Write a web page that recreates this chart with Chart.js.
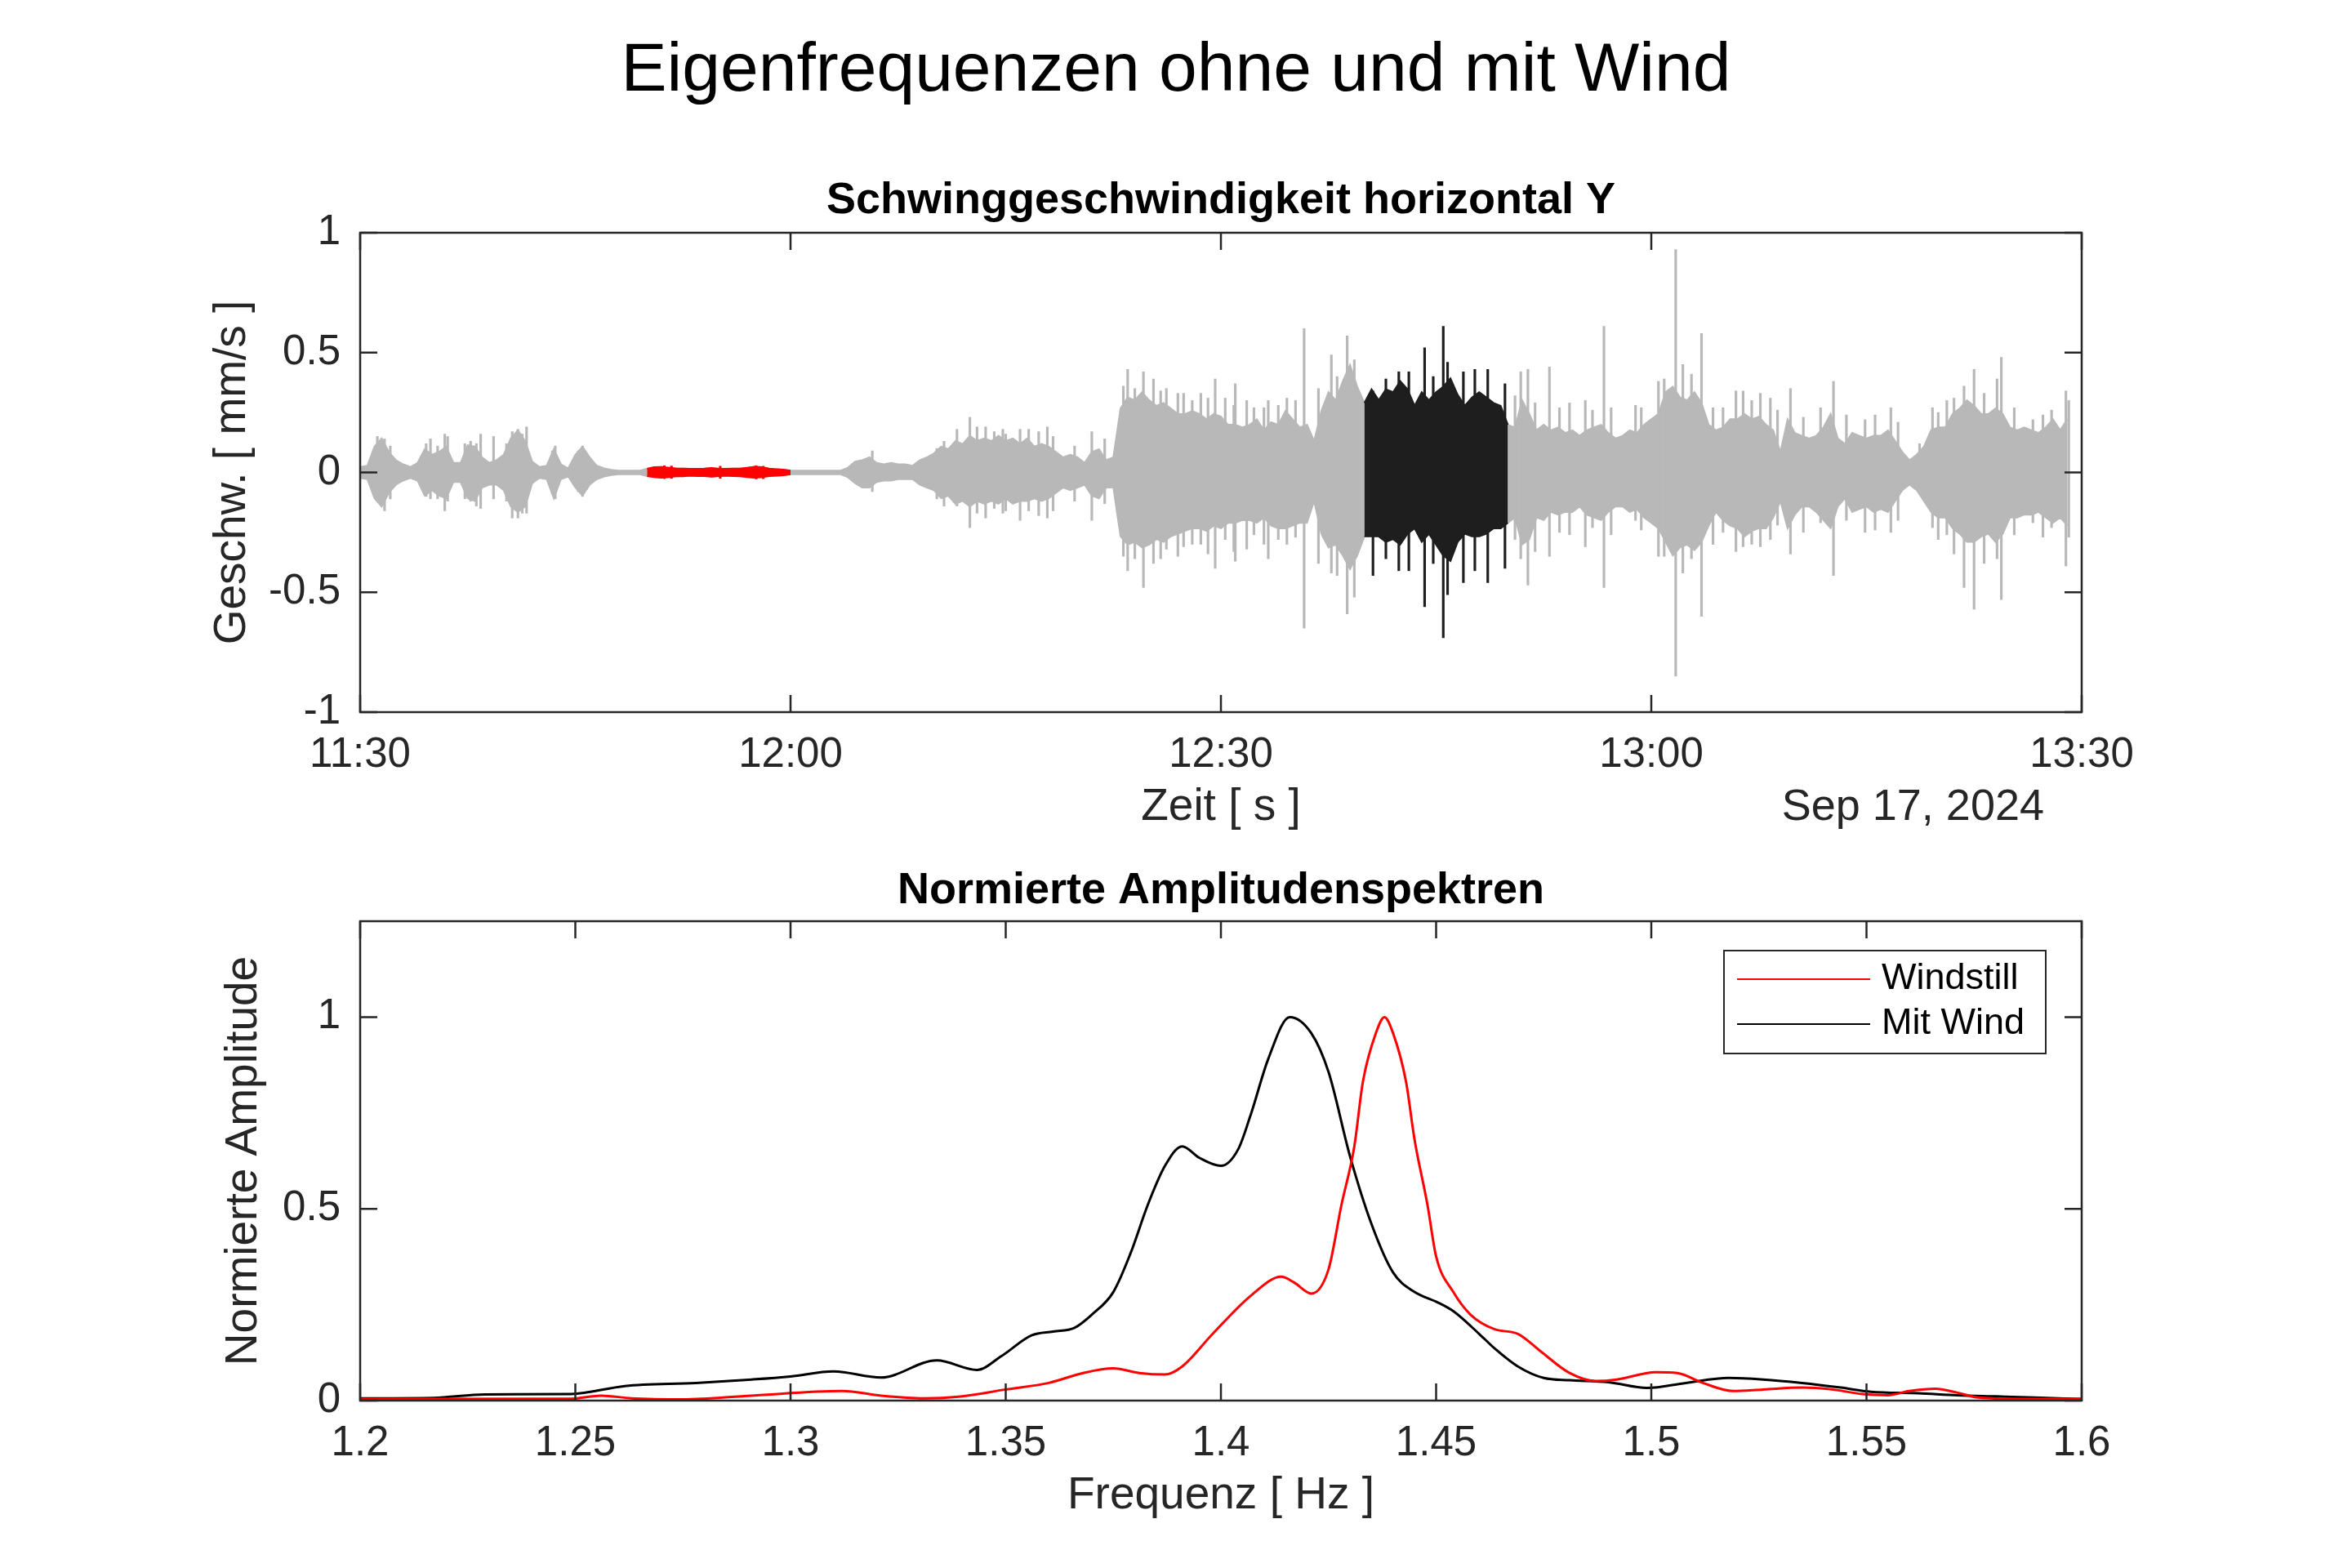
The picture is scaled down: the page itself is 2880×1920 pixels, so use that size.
<!DOCTYPE html>
<html>
<head>
<meta charset="utf-8">
<script src="https://cdn.jsdelivr.net/npm/chart.js@4.4.1/dist/chart.umd.min.js"></script>
<style>
  html, body { margin: 0; padding: 0; background: #fff; }
  #page { position: relative; width: 2880px; height: 1920px; }
  canvas { position: absolute; left: 0; }
  #top { top: 0; }
  #bottom { top: 1040px; }
</style>
</head>
<body>
<div id="page">
  <canvas id="top" width="2880" height="1040"></canvas>
  <canvas id="bottom" width="2880" height="880"></canvas>
</div>
<script>
// ---- data ----

// velocity trace: dense body of the signal, one sample every half minute from 11:30 (mm/s)
const sigStep = 0.5;
const sigHigh = [
  0.023, 0.028, 0.108, 0.142, 0.085, 0.051, 0.034, 0.023, 0.040, 0.097,
  0.074, 0.085, 0.108, 0.040, 0.040, 0.114, 0.108, 0.063, 0.040, 0.051,
  0.074, 0.142, 0.176, 0.131, 0.045, 0.023, 0.028, 0.097, 0.034, 0.017,
  0.074, 0.108, 0.063, 0.028, 0.017, 0.011, 0.008, 0.008, 0.008, 0.008,
  0.015, 0.022, 0.023, 0.020, 0.017, 0.016, 0.015, 0.015, 0.016, 0.019,
  0.015, 0.015, 0.016, 0.016, 0.020, 0.024, 0.022, 0.016, 0.014, 0.012,
  0.008, 0.008, 0.008, 0.008, 0.008, 0.008, 0.008, 0.008, 0.020, 0.045,
  0.051, 0.063, 0.040, 0.034, 0.040, 0.034, 0.034, 0.028, 0.051, 0.063,
  0.080, 0.108, 0.097, 0.131, 0.119, 0.153, 0.131, 0.142, 0.131, 0.153,
  0.131, 0.142, 0.119, 0.142, 0.108, 0.119, 0.108, 0.085, 0.063, 0.074,
  0.063, 0.040, 0.085, 0.097, 0.051, 0.063, 0.267, 0.313, 0.301, 0.335,
  0.301, 0.278, 0.290, 0.267, 0.244, 0.244, 0.256, 0.244, 0.222, 0.244,
  0.233, 0.199, 0.199, 0.188, 0.199, 0.222, 0.176, 0.210, 0.199, 0.256,
  0.222, 0.188, 0.199, 0.131, 0.256, 0.335, 0.301, 0.381, 0.449, 0.358,
  0.290, 0.347, 0.301, 0.347, 0.335, 0.381, 0.347, 0.278, 0.335, 0.301,
  0.335, 0.358, 0.392, 0.324, 0.278, 0.313, 0.335, 0.313, 0.290, 0.278,
  0.199, 0.188, 0.301, 0.244, 0.176, 0.199, 0.176, 0.188, 0.165, 0.176,
  0.153, 0.176, 0.188, 0.199, 0.165, 0.142, 0.153, 0.176, 0.165, 0.199,
  0.222, 0.244, 0.335, 0.358, 0.313, 0.301, 0.335, 0.290, 0.199, 0.176,
  0.188, 0.222, 0.222, 0.244, 0.222, 0.233, 0.199, 0.176, 0.085, 0.222,
  0.165, 0.153, 0.142, 0.153, 0.188, 0.244, 0.142, 0.119, 0.165, 0.153,
  0.142, 0.153, 0.153, 0.176, 0.131, 0.085, 0.051, 0.074, 0.108, 0.176,
  0.188, 0.188, 0.244, 0.267, 0.301, 0.278, 0.244, 0.244, 0.267, 0.244,
  0.188, 0.176, 0.188, 0.176, 0.165, 0.188, 0.222, 0.176, 0.222
];
const sigLow = [
  -0.023, -0.028, -0.108, -0.142, -0.085, -0.051, -0.034, -0.023, -0.034, -0.097,
  -0.074, -0.097, -0.108, -0.040, -0.040, -0.108, -0.119, -0.063, -0.051, -0.051,
  -0.074, -0.142, -0.165, -0.142, -0.045, -0.023, -0.028, -0.108, -0.028, -0.017,
  -0.063, -0.097, -0.051, -0.028, -0.017, -0.011, -0.008, -0.008, -0.008, -0.008,
  -0.015, -0.020, -0.022, -0.020, -0.016, -0.016, -0.014, -0.015, -0.015, -0.018,
  -0.015, -0.014, -0.015, -0.016, -0.020, -0.022, -0.020, -0.015, -0.014, -0.012,
  -0.008, -0.008, -0.008, -0.008, -0.008, -0.008, -0.008, -0.008, -0.020, -0.045,
  -0.063, -0.063, -0.040, -0.034, -0.034, -0.028, -0.028, -0.028, -0.051, -0.063,
  -0.074, -0.108, -0.097, -0.131, -0.119, -0.142, -0.119, -0.131, -0.119, -0.131,
  -0.108, -0.131, -0.119, -0.119, -0.108, -0.119, -0.108, -0.085, -0.063, -0.074,
  -0.063, -0.051, -0.097, -0.108, -0.063, -0.063, -0.267, -0.301, -0.290, -0.313,
  -0.301, -0.278, -0.290, -0.267, -0.256, -0.244, -0.233, -0.233, -0.244, -0.222,
  -0.233, -0.210, -0.210, -0.199, -0.199, -0.210, -0.188, -0.222, -0.233, -0.233,
  -0.222, -0.210, -0.210, -0.119, -0.256, -0.313, -0.301, -0.347, -0.403, -0.347,
  -0.267, -0.267, -0.267, -0.290, -0.278, -0.301, -0.256, -0.233, -0.290, -0.256,
  -0.301, -0.347, -0.369, -0.290, -0.256, -0.267, -0.267, -0.256, -0.233, -0.233,
  -0.210, -0.188, -0.301, -0.278, -0.188, -0.199, -0.165, -0.176, -0.165, -0.165,
  -0.142, -0.176, -0.188, -0.199, -0.165, -0.142, -0.142, -0.165, -0.153, -0.188,
  -0.210, -0.233, -0.290, -0.347, -0.313, -0.301, -0.324, -0.290, -0.222, -0.165,
  -0.199, -0.222, -0.233, -0.267, -0.244, -0.233, -0.233, -0.188, -0.119, -0.233,
  -0.176, -0.142, -0.142, -0.165, -0.199, -0.233, -0.142, -0.108, -0.165, -0.153,
  -0.142, -0.165, -0.153, -0.165, -0.119, -0.074, -0.051, -0.074, -0.119, -0.165,
  -0.188, -0.188, -0.233, -0.256, -0.290, -0.290, -0.267, -0.256, -0.290, -0.256,
  -0.188, -0.188, -0.176, -0.176, -0.165, -0.188, -0.210, -0.188, -0.222
];
// single peaks standing out of the body: [minute after 11:30, max, min]
const sigPeaks = [
  [1.2, 0.15, -0.12], [1.4, 0.13, -0.13], [1.7, 0.14, -0.16], [2.1, 0.11, -0.11],
  [4.6, 0.12, -0.10], [4.9, 0.14, -0.11], [5.4, 0.11, -0.11], [5.9, 0.16, -0.16],
  [6.1, 0.15, -0.12], [7.3, 0.12, -0.11], [7.7, 0.13, -0.12], [8.1, 0.12, -0.14],
  [8.4, 0.16, -0.15], [9.3, 0.15, -0.11], [10.2, 0.12, -0.12], [10.6, 0.17, -0.19],
  [11.0, 0.18, -0.19], [11.3, 0.16, -0.17], [11.6, 0.19, -0.17], [13.4, 0.09, -0.09],
  [13.6, 0.11, -0.11], [15.2, 0.09, -0.08], [15.5, 0.11, -0.10], [15.8, 0.08, -0.07],
  [21.2, 0.028, -0.026], [21.7, 0.027, -0.025], [25.1, 0.026, -0.025], [27.6, 0.028, -0.027], [28.1, 0.026, -0.026],
  [35.7, 0.09, -0.08], [40.2, 0.10, -0.11], [40.7, 0.13, -0.14], [41.6, 0.18, -0.14],
  [42.5, 0.23, -0.23], [43.0, 0.19, -0.17], [43.6, 0.19, -0.19], [44.2, 0.17, -0.15],
  [44.8, 0.18, -0.17], [45.0, 0.16, -0.16], [46.0, 0.18, -0.20], [46.6, 0.18, -0.16],
  [47.3, 0.17, -0.18], [47.9, 0.19, -0.19], [48.3, 0.15, -0.16], [49.8, 0.11, -0.12],
  [51.0, 0.17, -0.20], [51.9, 0.14, -0.13],
  [53.2, 0.36, -0.35], [53.5, 0.43, -0.41], [54.0, 0.35, -0.36], [54.6, 0.42, -0.48],
  [55.3, 0.39, -0.38], [55.8, 0.34, -0.36], [56.2, 0.35, -0.32], [57.0, 0.33, -0.35],
  [57.4, 0.33, -0.31], [58.0, 0.30, -0.30], [58.6, 0.33, -0.30], [59.1, 0.31, -0.34],
  [59.6, 0.39, -0.40], [60.3, 0.31, -0.28], [60.9, 0.28, -0.33], [61.0, 0.37, -0.37],
  [61.8, 0.30, -0.32], [62.3, 0.27, -0.26], [63.0, 0.27, -0.30], [63.3, 0.30, -0.36],
  [64.0, 0.28, -0.28], [64.6, 0.31, -0.30], [65.2, 0.30, -0.27], [65.8, 0.60, -0.65],
  [66.8, 0.35, -0.38], [67.7, 0.49, -0.42], [68.1, 0.40, -0.43], [68.8, 0.57, -0.59],
  [69.3, 0.47, -0.52],
  [70.6, 0.34, -0.43], [71.5, 0.39, -0.36], [72.4, 0.42, -0.41], [73.1, 0.42, -0.41],
  [74.2, 0.52, -0.56], [74.8, 0.40, -0.38], [75.5, 0.61, -0.69], [75.8, 0.46, -0.51],
  [76.9, 0.42, -0.46], [77.7, 0.43, -0.41], [78.6, 0.43, -0.46], [79.8, 0.37, -0.40],
  [80.5, 0.32, -0.28], [80.9, 0.42, -0.36], [81.4, 0.43, -0.47], [81.9, 0.29, -0.33],
  [82.9, 0.44, -0.35], [83.6, 0.27, -0.25], [84.3, 0.29, -0.26], [85.4, 0.30, -0.31],
  [85.9, 0.26, -0.23], [86.7, 0.61, -0.48], [87.2, 0.27, -0.26], [88.9, 0.28, -0.20],
  [89.3, 0.27, -0.24], [90.5, 0.38, -0.35], [90.9, 0.39, -0.35], [91.7, 0.93, -0.85],
  [92.2, 0.45, -0.42], [92.8, 0.41, -0.36], [93.5, 0.58, -0.60], [94.3, 0.27, -0.30],
  [95.0, 0.27, -0.25], [95.9, 0.34, -0.33], [96.4, 0.34, -0.31], [97.0, 0.30, -0.30],
  [97.6, 0.33, -0.31], [98.3, 0.31, -0.28], [98.8, 0.26, -0.22], [99.7, 0.35, -0.34],
  [100.6, 0.23, -0.25], [101.8, 0.27, -0.21], [102.7, 0.38, -0.43], [103.6, 0.24, -0.20],
  [104.9, 0.22, -0.25], [105.6, 0.24, -0.24], [106.7, 0.27, -0.25], [107.2, 0.21, -0.20],
  [108.7, 0.12, -0.08], [109.6, 0.27, -0.23], [110.0, 0.25, -0.28], [110.6, 0.30, -0.26],
  [111.1, 0.31, -0.34], [111.8, 0.36, -0.48], [112.5, 0.43, -0.57], [113.2, 0.33, -0.38],
  [114.1, 0.39, -0.36], [114.4, 0.48, -0.53], [115.3, 0.27, -0.26], [116.6, 0.22, -0.21],
  [117.3, 0.24, -0.27], [117.9, 0.26, -0.23], [118.9, 0.34, -0.39], [119.1, 0.30, -0.27]
];
const calmWindow = [20, 30];   // 11:50 - 12:00, windstill (red)
const windWindow = [70, 80];   // 12:40 - 12:50, mit Wind (black)
const timeTicks = ['11:30', '12:00', '12:30', '13:00', '13:30'];

// normalised amplitude spectra
const freqCalm = [1.200, 1.249, 1.256, 1.263, 1.275, 1.291, 1.312, 1.321, 1.331, 1.339,
  1.350, 1.360, 1.368, 1.375, 1.381, 1.387, 1.391, 1.398, 1.407, 1.414,
  1.417, 1.421, 1.425, 1.428, 1.431, 1.433, 1.436, 1.438, 1.440, 1.443,
  1.445, 1.448, 1.450, 1.454, 1.458, 1.4636, 1.469, 1.474, 1.481, 1.487,
  1.492, 1.501, 1.506, 1.512, 1.519, 1.526, 1.535, 1.542, 1.549, 1.555,
  1.560, 1.566, 1.571, 1.576, 1.589, 1.600];
const ampCalm = [0.004, 0.005, 0.013, 0.006, 0.003, 0.013, 0.025, 0.013, 0.006, 0.010,
  0.029, 0.046, 0.072, 0.084, 0.072, 0.068, 0.089, 0.173, 0.274, 0.323,
  0.308, 0.279, 0.342, 0.51, 0.663, 0.832, 0.958, 1.0, 0.958, 0.832,
  0.68, 0.51, 0.376, 0.283, 0.224, 0.186, 0.174, 0.131, 0.072, 0.051,
  0.055, 0.074, 0.072, 0.046, 0.025, 0.029, 0.034, 0.029, 0.017, 0.014,
  0.025, 0.031, 0.021, 0.008, 0.004, 0.004];
const freqWind = [1.200, 1.217, 1.229, 1.249, 1.2615, 1.278, 1.291, 1.300, 1.310, 1.321,
  1.334, 1.3433, 1.349, 1.356, 1.361, 1.366, 1.370, 1.375, 1.379, 1.383,
  1.387, 1.391, 1.395, 1.400, 1.404, 1.407, 1.411, 1.416, 1.421, 1.425,
  1.430, 1.435, 1.440, 1.445, 1.450, 1.454, 1.460, 1.4636, 1.469, 1.475,
  1.481, 1.490, 1.499, 1.508, 1.518, 1.526, 1.535, 1.544, 1.551, 1.562,
  1.571, 1.580, 1.589, 1.600];
const ampWind = [0.006, 0.007, 0.016, 0.017, 0.038, 0.046, 0.055, 0.063, 0.076, 0.060,
  0.105, 0.080, 0.116, 0.170, 0.180, 0.190, 0.224, 0.283, 0.384, 0.51,
  0.612, 0.663, 0.633, 0.612, 0.655, 0.748, 0.891, 1.0, 0.958, 0.857,
  0.637, 0.46, 0.334, 0.283, 0.258, 0.233, 0.174, 0.136, 0.089, 0.059,
  0.053, 0.048, 0.033, 0.046, 0.059, 0.055, 0.046, 0.034, 0.023, 0.019,
  0.014, 0.011, 0.008, 0.004];

// ---- styling ----
const FONT = "'Liberation Sans', Arial, Helvetica, sans-serif";
const AXIS = '#262626';
const GRAY = '#b8b8b8';
const DARK = '#1e1e1e';
const RED = '#ff0000';

Chart.defaults.font.family = FONT;
Chart.defaults.color = AXIS;

// MATLAB-like box, inward ticks, extra texts, legend
const matlabFrame = {
  id: 'matlabFrame',
  afterDraw(chart, args, opts) {
    const { ctx, chartArea: a, scales: { x, y } } = chart;
    ctx.save();
    ctx.strokeStyle = AXIS;
    ctx.lineWidth = 2.5;
    ctx.strokeRect(a.left, a.top, a.width, a.height);
    ctx.beginPath();
    const len = 21;
    x.ticks.forEach(t => {
      const px = x.getPixelForValue(t.value);
      ctx.moveTo(px, a.bottom); ctx.lineTo(px, a.bottom - len);
      ctx.moveTo(px, a.top); ctx.lineTo(px, a.top + len);
    });
    y.ticks.forEach(t => {
      const py = y.getPixelForValue(t.value);
      ctx.moveTo(a.left, py); ctx.lineTo(a.left + len, py);
      ctx.moveTo(a.right, py); ctx.lineTo(a.right - len, py);
    });
    ctx.stroke();

    (opts.texts || []).forEach(t => {
      ctx.font = t.font;
      ctx.fillStyle = t.color || '#000';
      ctx.textAlign = t.align || 'center';
      ctx.textBaseline = 'middle';
      ctx.fillText(t.text, t.x, t.y);
    });

    if (opts.legend) {
      const L = opts.legend;
      ctx.fillStyle = '#fff';
      ctx.fillRect(L.x, L.y, L.w, L.h);
      ctx.lineWidth = 2;
      ctx.strokeStyle = AXIS;
      ctx.strokeRect(L.x, L.y, L.w, L.h);
      ctx.font = L.font;
      ctx.textAlign = 'left';
      ctx.textBaseline = 'middle';
      chart.data.datasets.forEach((ds, i) => {
        const ry = L.rows[i];
        ctx.strokeStyle = ds.borderColor;
        ctx.lineWidth = 2;
        ctx.beginPath();
        ctx.moveTo(L.lineX0, ry); ctx.lineTo(L.lineX1, ry);
        ctx.stroke();
        ctx.fillStyle = '#000';
        ctx.fillText(ds.label, L.textX, ry);
      });
    }
    ctx.restore();
  }
};

// ---- top: velocity trace ----
function inRange(t, r) { return t >= r[0] && t <= r[1]; }

function band(range, color, order) {
  const pts = arr => arr.map((v, i) => ({ x: i * sigStep, y: v })).filter(p => inRange(p.x, range));
  const common = { type: 'line', borderColor: color, borderWidth: 2, pointRadius: 0, tension: 0, order };
  return [
    Object.assign({ data: pts(sigHigh), backgroundColor: color, fill: '+1' }, common),
    Object.assign({ data: pts(sigLow), fill: false }, common)
  ];
}

const peakColor = ctx => {
  const t = ctx.raw ? ctx.raw.x : 0;
  if (inRange(t, windWindow)) return DARK;
  if (inRange(t, calmWindow)) return RED;
  return GRAY;
};

const topDatasets = [
  ...band([0, 120], GRAY, 6),
  ...band(windWindow, DARK, 5),
  {
    type: 'bar',
    data: sigPeaks.map(p => ({ x: p[0], y: [p[2], p[1]] })),
    backgroundColor: peakColor,
    borderWidth: 0,
    barThickness: 2.5,
    grouped: false,
    order: 4
  },
  ...band(calmWindow, RED, 3)
];

new Chart(document.getElementById('top'), {
  type: 'line',
  data: { datasets: topDatasets },
  options: {
    responsive: false,
    animation: false,
    devicePixelRatio: 1,
    layout: { padding: { left: 0, top: 285, right: 331, bottom: 0 } },
    plugins: {
      legend: { display: false },
      tooltip: { enabled: false },
      matlabFrame: {
        texts: [
          { text: 'Eigenfrequenzen ohne und mit Wind', x: 1440, y: 88, font: '84px ' + FONT, color: '#000' },
          { text: 'Schwinggeschwindigkeit horizontal Y', x: 1495, y: 246, font: 'bold 54px ' + FONT, color: '#000' },
          { text: 'Sep 17, 2024', x: 2503, y: 989, font: '54px ' + FONT, color: AXIS, align: 'right' }
        ]
      }
    },
    scales: {
      x: {
        type: 'linear', min: 0, max: 120, offset: false,
        grid: { display: false, drawTicks: false }, border: { display: false },
        ticks: {
          stepSize: 30, maxRotation: 0, autoSkip: false, padding: 22,
          font: { size: 51 }, color: AXIS,
          callback: (v, i) => timeTicks[i]
        },
        title: { display: true, text: 'Zeit [ s ]', font: { size: 55 }, color: AXIS, padding: { top: 0, bottom: 18 } },
        afterFit: s => { s.height = 168; }
      },
      y: {
        min: -1, max: 1,
        grid: { display: false, drawTicks: false }, border: { display: false },
        ticks: { stepSize: 0.5, padding: 24, font: { size: 51 }, color: AXIS, callback: v => String(v) },
        title: { display: true, text: 'Geschw. [ mm/s ]', font: { size: 55 }, color: AXIS, padding: { top: 252, bottom: 0 } },
        afterFit: s => { s.width = 441; }
      }
    }
  },
  plugins: [matlabFrame]
});

// ---- bottom: spectra ----
new Chart(document.getElementById('bottom'), {
  type: 'line',
  data: {
    datasets: [
      {
        label: 'Windstill',
        data: freqCalm.map((f, i) => ({ x: f, y: ampCalm[i] })),
        borderColor: RED, borderWidth: 3, pointRadius: 0,
        cubicInterpolationMode: 'monotone', order: 1
      },
      {
        label: 'Mit Wind',
        data: freqWind.map((f, i) => ({ x: f, y: ampWind[i] })),
        borderColor: '#000', borderWidth: 3, pointRadius: 0,
        cubicInterpolationMode: 'monotone', order: 2
      }
    ]
  },
  options: {
    responsive: false,
    animation: false,
    devicePixelRatio: 1,
    layout: { padding: { left: 0, top: 88, right: 331, bottom: 0 } },
    plugins: {
      legend: { display: false },
      tooltip: { enabled: false },
      matlabFrame: {
        texts: [
          { text: 'Normierte Amplitudenspektren', x: 1495, y: 51, font: 'bold 54px ' + FONT, color: '#000' }
        ],
        legend: { x: 2111, y: 124, w: 394, h: 126, rows: [159, 214], lineX0: 2127, lineX1: 2290, textX: 2304, font: '45px ' + FONT }
      }
    },
    scales: {
      x: {
        type: 'linear', min: 1.2, max: 1.6, offset: false,
        grid: { display: false, drawTicks: false }, border: { display: false },
        ticks: {
          stepSize: 0.05, maxRotation: 0, autoSkip: false, padding: 22,
          font: { size: 51 }, color: AXIS,
          callback: v => String(Math.round(v * 100) / 100)
        },
        title: { display: true, text: 'Frequenz [ Hz ]', font: { size: 55 }, color: AXIS, padding: { top: 0, bottom: 55 } },
        afterFit: s => { s.height = 205; }
      },
      y: {
        min: 0, max: 1.25,
        grid: { display: false, drawTicks: false }, border: { display: false },
        ticks: { stepSize: 0.5, includeBounds: false, padding: 24, font: { size: 51 }, color: AXIS, callback: v => String(v) },
        title: { display: true, text: 'Normierte Amplitude', font: { size: 55 }, color: AXIS, padding: { top: 266, bottom: 0 } },
        afterFit: s => { s.width = 441; }
      }
    }
  },
  plugins: [matlabFrame]
});
</script>
</body>
</html>
